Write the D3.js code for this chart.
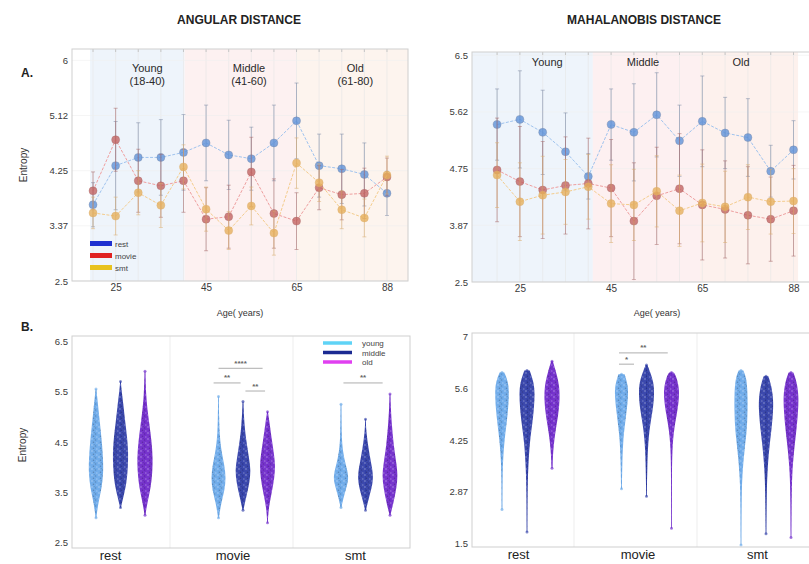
<!DOCTYPE html>
<html>
<head>
<meta charset="utf-8">
<script src="https://cdn.jsdelivr.net/npm/d3@7"></script>
<style>
  body { margin: 0; background: #fff; }
  svg { display: block; font-family: "Liberation Sans", Arial, sans-serif; }
</style>
</head>
<body>
<svg id="chart" width="809" height="564"></svg>
<script>
// ---- data ----
const ages = [20, 25, 30, 35, 40, 45, 50, 55, 60, 65, 70, 75, 80, 88];
const ageTicks = [25, 45, 65, 88];
const tasks = ["rest", "movie", "smt"];
const groups = ["young", "middle", "old"];

// A. angular distance, mean entropy per age bin
const angRestMean  = [3.71, 4.33, 4.46, 4.46, 4.54, 4.69, 4.50, 4.44, 4.69, 5.04, 4.33, 4.28, 4.19, 3.89];
const angRestErr   = [0.35, 0.70, 0.55, 0.60, 0.60, 0.60, 0.55, 0.50, 0.60, 0.60, 0.50, 0.55, 0.50, 0.35];
const angMovieMean = [3.93, 4.74, 4.09, 4.01, 4.09, 3.48, 3.52, 4.23, 3.57, 3.45, 3.98, 3.87, 3.89, 4.15];
const angMovieErr  = [0.30, 0.50, 0.50, 0.50, 0.50, 0.50, 0.50, 0.55, 0.55, 0.45, 0.35, 0.40, 0.40, 0.30];
const angSmtMean   = [3.58, 3.53, 3.90, 3.70, 4.31, 3.64, 3.30, 3.69, 3.26, 4.37, 4.06, 3.63, 3.50, 4.18];
const angSmtErr    = [0.25, 0.30, 0.35, 0.35, 0.35, 0.35, 0.30, 0.30, 0.35, 0.40, 0.30, 0.30, 0.30, 0.30];

// A. mahalanobis distance
const mahRestMean  = [5.43, 5.51, 5.31, 5.01, 4.63, 5.43, 5.31, 5.58, 5.18, 5.48, 5.30, 5.23, 4.71, 5.04];
const mahRestErr   = [0.55, 0.75, 0.65, 0.60, 0.35, 0.55, 0.75, 0.65, 0.55, 0.70, 0.55, 0.60, 0.40, 0.45];
const mahMovieMean = [4.73, 4.55, 4.42, 4.49, 4.52, 4.45, 3.94, 4.33, 4.44, 4.19, 4.12, 4.03, 3.97, 4.10];
const mahMovieErr  = [0.80, 0.85, 0.75, 0.75, 0.70, 0.75, 0.90, 0.75, 0.85, 0.85, 0.75, 0.75, 0.65, 0.70];
const mahSmtMean   = [4.65, 4.24, 4.34, 4.39, 4.47, 4.21, 4.19, 4.40, 4.10, 4.22, 4.16, 4.31, 4.24, 4.25];
const mahSmtErr    = [0.50, 0.60, 0.60, 0.50, 0.50, 0.60, 0.55, 0.55, 0.55, 0.60, 0.55, 0.50, 0.50, 0.50];

const angYTicks  = [2.5, 3.375, 4.25, 5.125, 6];
const angYLabels = ["2.5", "3.37", "4.25", "5.12", "6"];
const mahYTicks  = [3, 3.875, 4.75, 5.625, 6.5];
const mahYLabels = ["2.5", "3.87", "4.75", "5.62", "6.5"];

// B. distribution profiles per task: [entropy, relative density], one per group (young, middle, old)
const angRest = [
  [[3.0,0.04],[3.3,0.3],[3.6,0.75],[3.9,0.95],[4.2,0.9],[4.5,0.75],[4.8,0.55],[5.1,0.35],[5.4,0.15],[5.55,0.04]],
  [[3.2,0.05],[3.4,0.35],[3.7,0.8],[4.0,0.95],[4.3,1.0],[4.6,0.85],[4.9,0.6],[5.2,0.4],[5.5,0.15],[5.7,0.04]],
  [[3.05,0.05],[3.3,0.3],[3.6,0.75],[3.9,0.95],[4.2,1.0],[4.5,0.85],[4.8,0.6],[5.1,0.35],[5.4,0.15],[5.9,0.03]]
];
const angMovie = [
  [[3.0,0.05],[3.3,0.35],[3.55,0.8],[3.8,0.95],[4.05,0.75],[4.3,0.4],[4.6,0.15],[5.0,0.08],[5.4,0.03]],
  [[3.15,0.05],[3.4,0.4],[3.7,0.85],[3.95,1.0],[4.2,0.75],[4.5,0.45],[4.8,0.2],[5.3,0.03]],
  [[2.9,0.03],[3.2,0.15],[3.5,0.55],[3.8,0.9],[4.05,1.0],[4.3,0.8],[4.6,0.5],[4.9,0.25],[5.1,0.05]]
];
const angSmt = [
  [[3.2,0.05],[3.45,0.4],[3.7,0.9],[3.85,0.95],[4.05,0.6],[4.3,0.25],[4.6,0.08],[5.25,0.03]],
  [[3.15,0.05],[3.4,0.45],[3.65,0.9],[3.85,1.0],[4.1,0.7],[4.4,0.35],[4.7,0.1],[4.95,0.03]],
  [[3.05,0.05],[3.3,0.45],[3.6,0.85],[3.85,1.0],[4.1,0.8],[4.4,0.5],[4.8,0.25],[5.2,0.1],[5.45,0.03]]
];
const mahRest = [
  [[2.4,0.03],[3.2,0.05],[3.8,0.15],[4.3,0.35],[4.7,0.6],[5.1,0.8],[5.5,0.9],[5.8,0.8],[6.05,0.3]],
  [[1.8,0.02],[2.8,0.05],[3.5,0.15],[4.2,0.35],[4.7,0.7],[5.1,0.9],[5.5,1.0],[5.8,0.85],[6.1,0.35]],
  [[3.5,0.05],[4.0,0.15],[4.5,0.45],[4.9,0.8],[5.3,1.0],[5.7,0.95],[6.0,0.6],[6.35,0.1]]
];
const mahMovie = [
  [[2.95,0.05],[3.6,0.1],[4.2,0.2],[4.6,0.4],[5.0,0.65],[5.4,0.85],[5.7,0.85],[6.0,0.4]],
  [[2.75,0.03],[3.5,0.1],[4.2,0.2],[4.7,0.5],[5.1,0.85],[5.5,1.0],[5.8,0.9],[6.1,0.4],[6.25,0.1]],
  [[1.9,0.03],[3.2,0.05],[4.0,0.1],[4.5,0.3],[4.9,0.65],[5.3,0.95],[5.6,1.0],[5.9,0.7],[6.05,0.3]]
];
const mahSmt = [
  [[1.45,0.02],[2.5,0.05],[3.3,0.15],[4.0,0.45],[4.5,0.75],[5.0,0.85],[5.5,0.85],[5.9,0.7],[6.1,0.3]],
  [[1.75,0.02],[2.8,0.08],[3.5,0.2],[4.1,0.45],[4.6,0.75],[5.0,0.9],[5.3,0.95],[5.7,0.7],[5.95,0.3]],
  [[1.65,0.02],[2.6,0.06],[3.4,0.15],[4.0,0.4],[4.6,0.75],[5.0,0.9],[5.4,1.0],[5.8,0.75],[6.05,0.3]]
];

const angBoxTicks  = [2.5, 3.5, 4.5, 5.5, 6.5];
const angBoxLabels = ["2.5", "3.5", "4.5", "5.5", "6.5"];
const mahBoxTicks  = [1.5, 2.875, 4.25, 5.625, 7];
const mahBoxLabels = ["1.5", "2.87", "4.25", "5.6", "7"];

// significance bars: task, from group, to group, entropy level, stars
const angSig = [
  ["movie", 0, 1.8, 5.96, "****"],
  ["movie", -0.2, 0.9, 5.67, "**"],
  ["movie", 1.1, 1.9, 5.51, "**"],
  ["smt", 0.1, 1.7, 5.67, "**"]
];
const mahSig = [
  ["movie", -0.1, 1.85, 6.57, "**"],
  ["movie", -0.1, 0.5, 6.27, "*"]
];

// ---- drawing ----
const svg = d3.select("#chart");

// speckle texture so the violins read like a swarm of dots
const defs = svg.append("defs");
const pat = defs.append("pattern").attr("id", "speck")
  .attr("width", 7).attr("height", 6).attr("patternUnits", "userSpaceOnUse");
[[1, 1, "#fff", 0.4], [4.5, 2, "#000", 0.18], [2.5, 4.2, "#000", 0.22], [5.8, 5, "#fff", 0.3], [3.3, 0.2, "#000", 0.12]]
  .forEach(p => pat.append("circle").attr("cx", p[0]).attr("cy", p[1]).attr("r", 0.8)
    .attr("fill", p[2]).attr("opacity", p[3]));

function frame(g, x0, x1, y0, y1) {
  g.append("rect").attr("x", x0).attr("y", y0).attr("width", x1 - x0).attr("height", y1 - y0)
    .attr("fill", "none").attr("stroke", "#cfcfcf").attr("stroke-width", 1);
}

function styleAxis(sel, size, color) {
  sel.select(".domain").remove();
  sel.selectAll("text").attr("font-size", size).attr("fill", color).attr("font-family", "Liberation Sans, Arial, sans-serif");
}

function linePanel(o) {
  const g = svg.append("g");
  const x = d3.scalePoint().domain(ages).range(o.xRange).padding(o.pad);
  const xi = i => x(ages[0]) + i * x.step();
  const y = d3.scaleLinear().domain(o.yDomain).range(o.yRange);
  const [yb, yt] = o.yRange;

  o.bands.forEach(b => {
    g.append("rect").attr("x", xi(b[0])).attr("width", xi(b[1]) - xi(b[0]))
      .attr("y", yt).attr("height", yb - yt).attr("fill", b[2]);
  });

  // faint grid
  g.selectAll(".vg").data(ages).join("line")
    .attr("x1", d => x(d)).attr("x2", d => x(d)).attr("y1", yt).attr("y2", yb)
    .attr("stroke", "#e6e6e6").attr("stroke-width", 0.6);
  g.selectAll(".hg").data(o.yTicks).join("line")
    .attr("x1", o.xRange[0]).attr("x2", o.xRange[1]).attr("y1", d => y(d)).attr("y2", d => y(d))
    .attr("stroke", "#eeeeee").attr("stroke-width", 0.6);
  g.selectAll(".tt").data(ages).join("line")
    .attr("x1", d => x(d)).attr("x2", d => x(d)).attr("y1", yt).attr("y2", yt + 3)
    .attr("stroke", "#bbb").attr("stroke-width", 0.8);

  o.regions.forEach(r => {
    r[1].forEach((t, k) => {
      g.append("text").attr("x", xi(r[0])).attr("y", o.regionY + k * 13)
        .attr("text-anchor", "middle").attr("font-size", 11).attr("fill", "#2a2a2a").text(t);
    });
  });

  o.series.forEach(s => {
    const line = d3.line().x((d, i) => x(ages[i])).y(d => y(d));
    g.append("path").datum(s.mean).attr("d", line).attr("fill", "none")
      .attr("stroke", s.line).attr("stroke-width", 1).attr("stroke-dasharray", "3,1.5");
    const bars = g.append("g");
    s.mean.forEach((m, i) => {
      const cx = x(ages[i]), e = s.err[i];
      bars.append("line").attr("x1", cx).attr("x2", cx).attr("y1", y(m - e)).attr("y2", y(m + e))
        .attr("stroke", s.bar).attr("stroke-width", 0.9).attr("opacity", 0.65);
      [m - e, m + e].forEach(v => bars.append("line").attr("x1", cx - 2).attr("x2", cx + 2)
        .attr("y1", y(v)).attr("y2", y(v)).attr("stroke", s.bar).attr("stroke-width", 0.8).attr("opacity", 0.65));
    });
    g.selectAll(null).data(s.mean).join("circle")
      .attr("cx", (d, i) => x(ages[i])).attr("cy", d => y(d)).attr("r", 4)
      .attr("fill", s.marker).attr("fill-opacity", 0.78)
      .attr("stroke", s.bar).attr("stroke-opacity", 0.5).attr("stroke-width", 0.8);
  });

  frame(g, o.xRange[0], o.xRange[1], yt, yb);

  g.append("g").attr("transform", `translate(${o.xRange[0]},0)`)
    .call(d3.axisLeft(y).tickValues(o.yTicks).tickFormat((d, i) => o.yLabels[i]).tickSize(0).tickPadding(4))
    .call(a => styleAxis(a, 9.5, "#3a3a3a"));
  g.append("g").attr("transform", `translate(0,${yb})`)
    .call(d3.axisBottom(x).tickValues(ageTicks).tickSize(0).tickPadding(3))
    .call(a => styleAxis(a, 10, "#3a3a3a"));

  g.append("text").attr("x", o.ageLabelX).attr("y", 316).attr("text-anchor", "middle")
    .attr("font-size", 9).attr("fill", "#333").text("Age( years)");
  return g;
}

function violinPanel(o) {
  const g = svg.append("g");
  const x = d3.scalePoint().domain(tasks).range(o.xRange);
  const gx = d3.scaleLinear().domain([0, 2]).range(o.groupOffsets);
  const y = d3.scaleLinear().domain(o.yDomain).range(o.yRange);
  const w = d3.scaleLinear().domain([0, 1]).range([0, 7.8]);
  const [yb, yt] = o.yRange;

  o.grid.forEach(v => g.append("line").attr("x1", v).attr("x2", v).attr("y1", yt).attr("y2", yb)
    .attr("stroke", "#e8e8e8").attr("stroke-width", 0.8));

  tasks.forEach((t, ti) => {
    o.profiles[ti].forEach((prof, gi) => {
      const cx = x(t) + gx(gi);
      const area = d3.area().curve(d3.curveBasis)
        .y(d => y(d[0])).x0(d => cx - w(d[1])).x1(d => cx + w(d[1]));
      const lo = prof[0][0], hi = prof[prof.length - 1][0];
      g.append("line").attr("x1", cx).attr("x2", cx).attr("y1", y(lo)).attr("y2", y(hi))
        .attr("stroke", o.colors[gi]).attr("stroke-width", 1).attr("opacity", 0.6);
      g.append("path").datum(prof).attr("d", area).attr("fill", o.colors[gi]).attr("opacity", 0.92);
      g.append("path").datum(prof).attr("d", area).attr("fill", "url(#speck)");
      [lo, hi].forEach(v => g.append("circle").attr("cx", cx).attr("cy", y(v)).attr("r", 1.5)
        .attr("fill", o.colors[gi]).attr("opacity", 0.6));
    });
  });

  o.sig.forEach(s => {
    const x0 = x(s[0]) + gx(s[1]), x1 = x(s[0]) + gx(s[2]), yy = y(s[3]);
    g.append("line").attr("x1", x0).attr("x2", x1).attr("y1", yy).attr("y2", yy)
      .attr("stroke", "#999").attr("stroke-width", 0.8);
    g.append("text").attr("x", (x0 + x1) / 2).attr("y", yy - 2.5).attr("text-anchor", "middle")
      .attr("font-size", 8).attr("font-weight", "bold").attr("fill", "#666").text(s[4]);
  });

  frame(g, o.frameX[0], o.frameX[1], yt, yb);

  g.append("g").attr("transform", `translate(${o.frameX[0]},0)`)
    .call(d3.axisLeft(y).tickValues(o.yTicks).tickFormat((d, i) => o.yLabels[i]).tickSize(0).tickPadding(4))
    .call(a => styleAxis(a, 9.5, "#3a3a3a"));
  g.append("g").attr("transform", `translate(0,${yb})`)
    .call(d3.axisBottom(x).tickSize(0).tickPadding(3))
    .call(a => styleAxis(a, 13, "#222"));
  return g;
}

const seriesStyle = {
  rest:  { marker: "#5b8fd9", line: "#9fc3ee", bar: "#7c8aa6" },
  movie: { marker: "#c2605f", line: "#ee9f9f", bar: "#a86a6a" },
  smt:   { marker: "#e6ae5a", line: "#f4cc8c", bar: "#dcae70" }
};

linePanel({
  xRange: [72, 408], pad: 0.93, yDomain: [2.5, 6.18], yRange: [281, 49],
  yTicks: angYTicks, yLabels: angYLabels,
  bands: [[-0.13, 4.05, "#eef4fb"], [4.05, 9.0, "#fdf1f1"], [9.0, 13.94, "#fdf4ee"]],
  regions: [[2.4, ["Young", "(18-40)"]], [6.9, ["Middle", "(41-60)"]], [11.6, ["Old", "(61-80)"]]],
  regionY: 72, ageLabelX: 240,
  series: [
    Object.assign({ mean: angRestMean,  err: angRestErr },  seriesStyle.rest),
    Object.assign({ mean: angMovieMean, err: angMovieErr }, seriesStyle.movie),
    Object.assign({ mean: angSmtMean,   err: angSmtErr },   seriesStyle.smt)
  ]
});

linePanel({
  xRange: [472, 818.6], pad: 1.1, yDomain: [3, 6.55], yRange: [282, 52],
  yTicks: mahYTicks, yLabels: mahYLabels,
  bands: [[-1.1, 4.2, "#eef4fb"], [4.2, 8.9, "#fdf0f1"], [8.9, 13.2, "#fdf1ed"]],
  regions: [[2.2, ["Young"]], [6.4, ["Middle"]], [10.7, ["Old"]]],
  regionY: 66, ageLabelX: 657,
  series: [
    Object.assign({ mean: mahRestMean,  err: mahRestErr },  seriesStyle.rest),
    Object.assign({ mean: mahMovieMean, err: mahMovieErr }, seriesStyle.movie),
    Object.assign({ mean: mahSmtMean,   err: mahSmtErr },   seriesStyle.smt)
  ]
});

const groupColors = ["#66a6e8", "#2b3aa6", "#6b24c9"];

violinPanel({
  xRange: [110, 355], groupOffsets: [-14, 35], frameX: [72, 410],
  yDomain: [2.4, 6.6], yRange: [548, 336],
  yTicks: angBoxTicks, yLabels: angBoxLabels,
  profiles: [angRest, angMovie, angSmt], colors: groupColors, sig: angSig,
  grid: [170, 293]
});

violinPanel({
  xRange: [518, 757], groupOffsets: [-16, 34], frameX: [472, 818],
  yDomain: [1.4, 7.1], yRange: [547, 333],
  yTicks: mahBoxTicks, yLabels: mahBoxLabels,
  profiles: [mahRest, mahMovie, mahSmt], colors: groupColors, sig: mahSig,
  grid: [574, 697]
});

// legends
const legA = svg.append("g");
[["rest", "#1f30d0"], ["movie", "#e02222"], ["smt", "#e8c21e"]].forEach((d, i) => {
  legA.append("rect").attr("x", 90).attr("y", 241 + i * 12).attr("width", 22).attr("height", 5).attr("fill", d[1]);
  legA.append("text").attr("x", 115).attr("y", 246.5 + i * 12).attr("font-size", 8).attr("fill", "#444").text(d[0]);
});
const legB = svg.append("g");
[["young", "#5fd3f6"], ["middle", "#1b2a92"], ["old", "#e040f0"]].forEach((d, i) => {
  legB.append("line").attr("x1", 323).attr("x2", 352).attr("y1", 343 + i * 9.5).attr("y2", 343 + i * 9.5)
    .attr("stroke", d[1]).attr("stroke-width", 3.5);
  legB.append("text").attr("x", 362).attr("y", 346 + i * 9.5).attr("font-size", 8).attr("fill", "#444").text(d[0]);
});

// titles and labels
svg.append("text").attr("x", 239).attr("y", 24).attr("text-anchor", "middle")
  .attr("font-size", 12).attr("font-weight", "bold").attr("fill", "#222").text("ANGULAR DISTANCE");
svg.append("text").attr("x", 644).attr("y", 24).attr("text-anchor", "middle")
  .attr("font-size", 12).attr("font-weight", "bold").attr("fill", "#222").text("MAHALANOBIS DISTANCE");
svg.append("text").attr("x", 21).attr("y", 77).attr("font-size", 12).attr("font-weight", "bold").attr("fill", "#222").text("A.");
svg.append("text").attr("x", 21).attr("y", 331).attr("font-size", 12).attr("font-weight", "bold").attr("fill", "#222").text("B.");
[[27, 165], [26, 445]].forEach(p => {
  svg.append("text").attr("transform", `translate(${p[0]},${p[1]}) rotate(-90)`)
    .attr("text-anchor", "middle").attr("font-size", 10).attr("fill", "#333").text("Entropy");
});
</script>
</body>
</html>
